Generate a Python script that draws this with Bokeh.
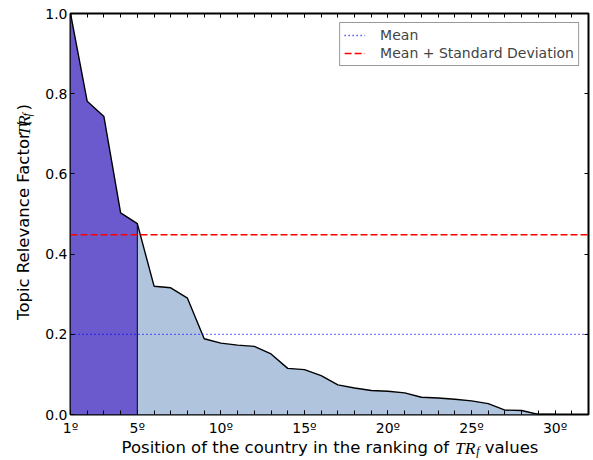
import math
from bokeh.plotting import figure
from bokeh.layouts import row, column
from bokeh.models import (Range1d, FixedTicker, LinearAxis, Label, Legend,
                          LegendItem, PrintfTickFormatter, CustomLabelingPolicy)
from bokeh.embed import file_html
from bokeh.resources import INLINE

# ---------------- data ----------------
positions = list(range(1, 31))
trf_values = [1.000, 0.781, 0.743, 0.503, 0.476, 0.320, 0.316, 0.290, 0.189, 0.178,
              0.173, 0.170, 0.151, 0.115, 0.112, 0.097, 0.074, 0.066, 0.060, 0.058,
              0.054, 0.043, 0.041, 0.038, 0.034, 0.027, 0.011, 0.010, 0.000, 0.000]
top_count = 5
mean_value = 0.200
mean_plus_sd = 0.448

x_limits = (1, 32)
y_limits = (0.0, 1.0)
x_ticks = [1, 5, 10, 15, 20, 25, 30]
x_tick_labels = ["1º", "5º", "10º", "15º", "20º", "25º", "30º"]
x_minor_ticks = list(range(1, 33))
y_ticks = [0.0, 0.2, 0.4, 0.6, 0.8, 1.0]

# ---------------- layout / styles ----------------
FONT = "DejaVu Sans"
MATH_FONT = "Liberation Serif"
PAGE_W, PAGE_H = 593, 460
YLAB_W = 42             # strip holding the y label
BL, BT, BR, BB = 26, 13, 2, 31
MAIN_W = PAGE_W - YLAB_W
MAIN_H = 445
XLAB_TOP = 432          # page y where the (transparent) x-label strip starts
XLAB_H = PAGE_H - XLAB_TOP
FRAME_W = MAIN_W - BL - BR
FRAME_LEFT_PX = YLAB_W + BL

# DejaVu Sans advance widths (units per em = 2048) for label layout
DJV = {' ': 651, 'P': 1235, 'o': 1253, 's': 1067, 'i': 569, 't': 803, 'n': 1298,
       'f': 721, 'h': 1298, 'e': 1260, 'c': 1126, 'u': 1298, 'r': 842, 'y': 1212,
       'a': 1255, 'k': 1186, 'g': 1300, 'v': 1212, 'l': 569, 'T': 1251, 'R': 1423,
       'p': 1300, 'F': 1178, '(': 799, ')': 799}
LSI = {'T': 1139, 'R': 1251, 'f': 569}


def w_sans(s, size):
    return sum(DJV[c] for c in s) / 2048.0 * size


def w_math(s, size):
    return sum(LSI[c] for c in s) / 2048.0 * size


# ---------------- main chart ----------------
p = figure(width=MAIN_W, height=MAIN_H,
           x_range=Range1d(*x_limits), y_range=Range1d(*y_limits),
           output_backend="svg", toolbar_location=None,
           min_border_left=BL, min_border_right=BR, min_border_top=BT,
           min_border_bottom=BB, background_fill_color="white",
           border_fill_color="white")
p.xgrid.grid_line_color = None
p.ygrid.grid_line_color = None
p.outline_line_color = "black"
p.outline_line_width = 2
p.outline_line_alpha = 1.0

no_labels = CustomLabelingPolicy(code="if (false) { yield 0 }")


def style_axis(ax, show_labels):
    ax.axis_line_color = None
    ax.major_tick_line_color = "black"
    ax.major_tick_line_width = 1
    ax.major_tick_in = 4
    ax.major_tick_out = 0
    ax.minor_tick_line_color = "black"
    ax.minor_tick_line_width = 1
    ax.minor_tick_in = 4
    ax.minor_tick_out = 0
    ax.major_label_text_font = FONT
    ax.major_label_text_color = "black"
    if show_labels:
        ax.major_label_text_font_size = "14px"
    else:
        ax.major_label_text_font_size = "1px"
        ax.major_label_standoff = 0
        ax.major_label_policy = no_labels


bottom = p.xaxis[0]
bottom.ticker = FixedTicker(ticks=x_ticks, minor_ticks=x_minor_ticks)
bottom.major_label_overrides = {t: lab for t, lab in zip(x_ticks, x_tick_labels)}
style_axis(bottom, True)
bottom.major_label_standoff = 5

left = p.yaxis[0]
left.ticker = FixedTicker(ticks=y_ticks, minor_ticks=[])
left.formatter = PrintfTickFormatter(format="%.1f")
style_axis(left, True)
left.major_label_standoff = 3

top = LinearAxis(ticker=FixedTicker(ticks=x_ticks, minor_ticks=x_minor_ticks))
style_axis(top, False)
p.add_layout(top, "above")

right = LinearAxis(ticker=FixedTicker(ticks=y_ticks, minor_ticks=[]))
style_axis(right, False)
p.add_layout(right, "right")

p.varea(x=positions[:top_count], y1=[0] * top_count, y2=trf_values[:top_count],
        fill_color="#6A5ACD")
rest_x = positions[top_count - 1:]
rest_y = trf_values[top_count - 1:]
p.varea(x=rest_x, y1=[0] * len(rest_x), y2=rest_y, fill_color="#B0C4DE")
p.segment(x0=[positions[top_count - 1]], y0=[0], x1=[positions[top_count - 1]],
          y1=[trf_values[top_count - 1]], line_color="black", line_width=1)
p.line(positions, trf_values, line_color="black", line_width=1.4)

r_mean = p.line(x=list(x_limits), y=[mean_value] * 2, line_color="#0000ff",
                line_dash="1 3", line_width=1.3)
r_sd = p.line(x=list(x_limits), y=[mean_plus_sd] * 2, line_color="#ff0000",
              line_dash="7 3", line_width=1.5)

legend = Legend(items=[LegendItem(label="Mean", renderers=[r_mean]),
                       LegendItem(label="Mean + Standard Deviation", renderers=[r_sd])],
                location="top_right", margin=9, padding=4, spacing=2,
                label_text_font=FONT, label_text_font_size="14px",
                label_height=16, glyph_height=16, glyph_width=21,
                label_standoff=15, border_line_color="#333333",
                border_line_width=1, background_fill_color="white",
                background_fill_alpha=1.0)
p.add_layout(legend)


def strip(w, h, transparent=False):
    f = figure(width=w, height=h, x_range=Range1d(0, w), y_range=Range1d(0, h),
               output_backend="svg", toolbar_location=None, min_border=0,
               x_axis_location=None, y_axis_location=None,
               background_fill_color="white", border_fill_color="white")
    if transparent:
        f.background_fill_alpha = 0
        f.border_fill_alpha = 0
    f.outline_line_color = None
    f.grid.visible = False
    return f


# ---------------- y label strip (rotated text with math TR_f) ----------------
ylab = strip(YLAB_W, MAIN_H)
YS, YM, YSUB = 16.5, 17.5, 12
yl_pre = "Topic Relevance Factor ("
yl_suf = ")"
w_pre = w_sans(yl_pre, YS)
w_tr = w_math("TR", YM)
w_f = w_math("f", YSUB)
w_suf = w_sans(yl_suf, YS)
gap_f, gap_close = 0.8, 3.5
label_start_page_y = 340
sy = MAIN_H - label_start_page_y
bx = 23
pieces = [
    (yl_pre.strip(), bx, sy, FONT, YS, "normal"),
    ("TR", bx, sy + w_pre, MATH_FONT, YM, "italic"),
    ("f", bx + 3.5, sy + w_pre + w_tr + gap_f, MATH_FONT, YSUB, "italic"),
    (yl_suf, bx, sy + w_pre + w_tr + gap_f + w_f + gap_close, FONT, YS, "normal"),
]
for txt, xx, yy, fnt, size, style in pieces:
    ylab.add_layout(Label(x=xx, y=yy, text=txt, angle=math.pi / 2,
                          text_font=fnt, text_font_size=f"{size}px",
                          text_font_style=style, text_color="black",
                          text_align="left", text_baseline="alphabetic"))

# ---------------- x label strip (overlaps the bottom border, transparent) ----------------
xlab = strip(PAGE_W, XLAB_H, transparent=True)
xlab.margin = (XLAB_TOP - MAIN_H, 0, 0, 0)
XS, XM, XSUB = 16.5, 17.5, 12
xl_pre = "Position of the country in the ranking of "
xl_suf = "values"
w_pre = w_sans(xl_pre, XS)
w_tr = w_math("TR", XM)
w_f = w_math("f", XSUB)
w_space = w_sans(" ", XS)
w_suf = w_sans(xl_suf, XS)
gap_f = 0.8
total = w_pre + w_tr + gap_f + w_f + w_space + w_suf
sx = FRAME_LEFT_PX + FRAME_W / 2.0 - total / 2.0
base = XLAB_H - (447 - XLAB_TOP)
pieces = [
    (xl_pre.strip(), sx, base, FONT, XS, "normal"),
    ("TR", sx + w_pre, base, MATH_FONT, XM, "italic"),
    ("f", sx + w_pre + w_tr + gap_f, base - 3.5, MATH_FONT, XSUB, "italic"),
    (xl_suf, sx + w_pre + w_tr + gap_f + w_f + w_space, base, FONT, XS, "normal"),
]
for txt, xx, yy, fnt, size, style in pieces:
    xlab.add_layout(Label(x=xx, y=yy, text=txt, text_font=fnt,
                          text_font_size=f"{size}px", text_font_style=style,
                          text_color="black", text_align="left",
                          text_baseline="alphabetic"))

layout = column(row(ylab, p), xlab)
open("out.html", "w").write(file_html(layout, INLINE))
